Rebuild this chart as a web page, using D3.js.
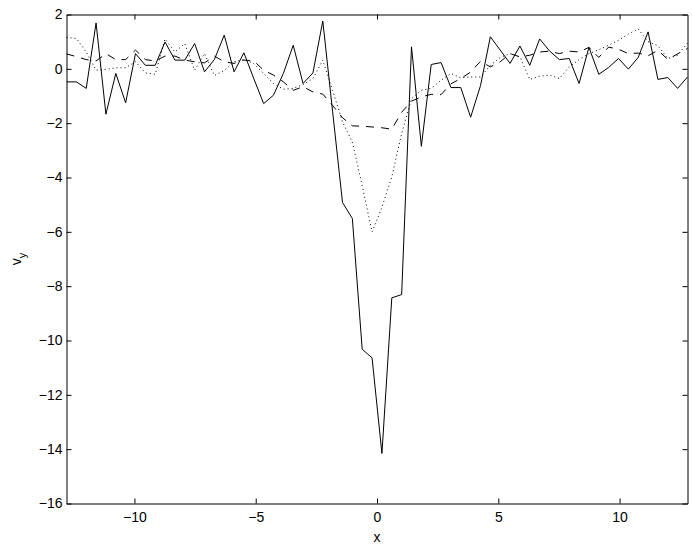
<!DOCTYPE html>
<html>
<head>
<meta charset="utf-8">
<script src="https://cdn.jsdelivr.net/npm/d3@7"></script>
<style>
  body { margin: 0; background: #fff; }
  .axis text { font-family: "Liberation Sans", Arial, sans-serif; font-size: 14px; fill: #000; }
  .axis path, .axis line { stroke: #000; }
</style>
</head>
<body>
<div id="chart"></div>
<script>
// sample positions along x
const xValues = [-12.800, -12.394, -11.987, -11.581, -11.175, -10.768, -10.362, -9.956,
  -9.549, -9.143, -8.737, -8.330, -7.924, -7.517, -7.111, -6.705,
  -6.298, -5.892, -5.486, -5.079, -4.673, -4.267, -3.860, -3.454,
  -3.048, -2.641, -2.235, -1.829, -1.422, -1.016, -0.610, -0.203,
  0.203, 0.610, 1.016, 1.422, 1.829, 2.235, 2.641, 3.048,
  3.454, 3.860, 4.267, 4.673, 5.079, 5.486, 5.892, 6.298,
  6.705, 7.111, 7.517, 7.924, 8.330, 8.737, 9.143, 9.549,
  9.956, 10.362, 10.768, 11.175, 11.581, 11.987, 12.394, 12.800];

// solid line
const vySolid = [-0.48, -0.48, -0.72, 1.69, -1.67, -0.17, -1.25, 0.56,
  0.13, 0.13, 0.99, 0.32, 0.32, 0.93, -0.11, 0.34,
  1.24, -0.11, 0.59, -0.36, -1.28, -0.97, -0.17, 0.87,
  -0.54, -0.15, 1.76, -1.58, -4.92, -5.51, -10.32, -10.64,
  -14.16, -8.43, -8.31, 0.81, -2.85, 0.16, 0.23, -0.69,
  -0.69, -1.78, -0.62, 1.18, 0.69, 0.20, 0.84, 0.13,
  1.10, 0.66, 0.34, 0.38, -0.54, 0.79, -0.20, 0.05,
  0.38, -0.01, 0.42, 1.36, -0.39, -0.32, -0.72, -0.30];

// dashed line
const vyDashed = [0.55, 0.45, 0.34, 0.29, 0.56, 0.34, 0.34, 0.69,
  0.34, 0.29, 0.47, 0.47, 0.32, 0.26, 0.22, 0.47,
  0.26, 0.20, 0.32, 0.29, -0.05, -0.23, -0.48, -0.79,
  -0.66, -0.85, -0.93, -1.35, -1.80, -2.10, -2.11, -2.14,
  -2.17, -2.22, -1.60, -1.19, -1.03, -0.94, -0.95, -0.55,
  -0.36, -0.12, 0.28, 0.07, 0.26, 0.56, 0.44, 0.50,
  0.62, 0.65, 0.56, 0.65, 0.62, 0.79, 0.42, 0.80,
  0.72, 0.56, 0.58, 0.48, 0.68, 0.35, 0.55, 0.75];

// dotted line
const vyDotted = [1.15, 1.12, 0.62, -0.05, -0.02, 0.04, 0.04, 0.26,
  -0.15, -0.20, 1.10, 0.62, 0.93, -0.05, 0.56, -0.25,
  -0.06, 0.26, 0.35, 0.19, -0.17, -0.54, -0.75, -0.72,
  -0.58, -0.36, 0.32, -0.80, -1.95, -2.70, -4.30, -6.00,
  -5.10, -3.98, -2.38, -1.10, -0.79, -0.72, -0.42, -0.17,
  -0.33, -0.30, -0.30, 0.13, 0.42, 0.56, 0.44, -0.39,
  -0.27, -0.23, -0.36, 0.07, 0.34, 0.56, 0.70, 0.87,
  1.05, 1.28, 1.47, 1.00, 0.85, 0.38, 0.50, 0.95];

const xTicks = [-10, -5, 0, 5, 10];
const yTicks = [2, 0, -2, -4, -6, -8, -10, -12, -14, -16];

// chart size and margins
let margin = {top: 14.5, right: 4.5, bottom: 42.5, left: 66.5};
let width = 692 - margin.left - margin.right,
    height = 546 - margin.top - margin.bottom;

const svg = d3.select("#chart")
  .append("svg")
    .attr("width", 692)
    .attr("height", 546)
  .append("g")
    .attr("transform", "translate(" + margin.left + "," + margin.top + ")");

let x = d3.scaleLinear().domain([-12.8, 12.8]).range([0, width]);
let y = d3.scaleLinear().domain([-16, 2]).range([height, 0]);

// axes, ticks pointing inward on all four sides
svg.append("g")
  .attr("class", "axis")
  .attr("transform", "translate(0," + height + ")")
  .call(d3.axisBottom(x).tickValues(xTicks).tickSizeInner(-5).tickSizeOuter(0).tickPadding(9));

svg.append("g")
  .attr("class", "axis")
  .call(d3.axisTop(x).tickValues(xTicks).tickSizeInner(-5).tickSizeOuter(0).tickFormat(""));

svg.append("g")
  .attr("class", "axis")
  .call(d3.axisLeft(y).tickValues(yTicks).tickSizeInner(-5).tickSizeOuter(0).tickPadding(4));

svg.append("g")
  .attr("class", "axis")
  .attr("transform", "translate(" + width + ",0)")
  .call(d3.axisRight(y).tickValues(yTicks).tickSizeInner(-5).tickSizeOuter(0).tickFormat(""));

// the three curves
const series = [
  {values: vySolid, dash: null},
  {values: vyDashed, dash: "8,7"},
  {values: vyDotted, dash: "1,3"}
];

const line = d3.line()
  .x(function(d) { return x(d[0]); })
  .y(function(d) { return y(d[1]); });

series.forEach(function(s) {
  svg.append("path")
    .datum(xValues.map(function(v, i) { return [v, s.values[i]]; }))
    .attr("fill", "none")
    .attr("stroke", "#000")
    .attr("stroke-width", 1)
    .attr("stroke-dasharray", s.dash)
    .attr("d", line);
});

// axis labels
svg.append("text")
  .attr("x", x(0))
  .attr("y", height + 38)
  .attr("text-anchor", "middle")
  .style("font-family", "Liberation Sans, Arial, sans-serif")
  .style("font-size", "14px")
  .text("x");

const yLabel = svg.append("text")
  .attr("transform", "translate(" + (-46) + "," + (height / 2) + ")rotate(-90)")
  .attr("text-anchor", "middle")
  .style("font-family", "Liberation Sans, Arial, sans-serif")
  .style("font-size", "14px");
yLabel.append("tspan").text("v");
yLabel.append("tspan").attr("dy", 5).style("font-size", "11px").text("y");
</script>
</body>
</html>
